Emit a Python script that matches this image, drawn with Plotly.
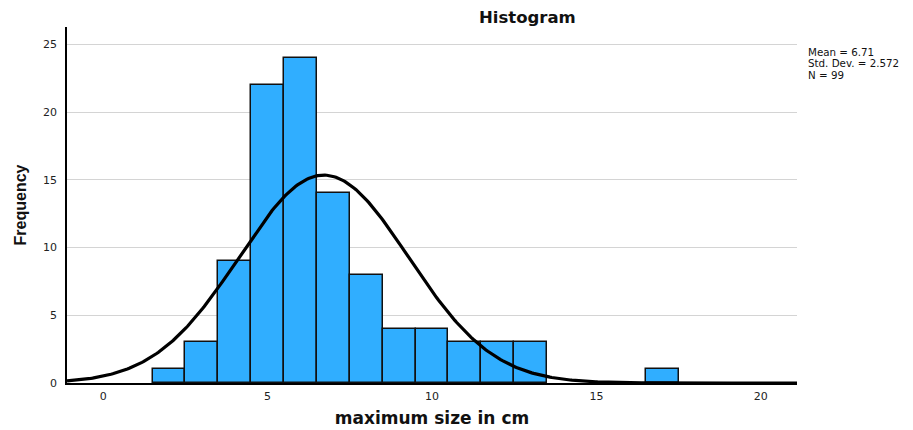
import numpy as np
import plotly.graph_objects as go

# Data
bin_centers = [2, 3, 4, 5, 6, 7, 8, 9, 10, 11, 12, 13, 17]
frequencies = [1, 3, 9, 22, 24, 14, 8, 4, 4, 3, 3, 3, 1]
bin_width = 1.0
mean_val = 6.71
std_val = 2.572
n_val = 99

x_ticks = [0, 5, 10, 15, 20]
y_ticks = [0, 5, 10, 15, 20, 25]
stats_lines = [f"Mean = {mean_val}", f"Std. Dev. = {std_val}", f"N = {n_val}"]

# Fitted normal curve (from stated mean / sd / N)
xs = np.linspace(-1.1, 21.1, 400)
ys = n_val * bin_width / (std_val * np.sqrt(2 * np.pi)) * np.exp(-0.5 * ((xs - mean_val) / std_val) ** 2)

FONT = "DejaVu Sans, Verdana, sans-serif"

fig = go.Figure()
fig.add_trace(go.Bar(
    x=bin_centers, y=frequencies, width=bin_width,
    marker=dict(color="#30aeff", line=dict(color="#111111", width=1.5)),
    showlegend=False, hoverinfo="x+y",
))
fig.add_trace(go.Scatter(
    x=xs, y=ys, mode="lines", line=dict(color="#000000", width=3.2),
    showlegend=False, hoverinfo="skip",
))

PLOT_LEFT, PLOT_RIGHT = 67, 797
PLOT_TOP, PLOT_BOTTOM = 27, 383
plot_h = PLOT_BOTTOM - PLOT_TOP
plot_w = PLOT_RIGHT - PLOT_LEFT

annotations = [
    dict(text="<b>Histogram</b>", xref="paper", yref="paper", x=(527 - PLOT_LEFT) / plot_w, y=1.0,
         yshift=10, xanchor="center", yanchor="middle", showarrow=False,
         font=dict(size=16.5, color="#111111", family=FONT)),
]
for i, line in enumerate(stats_lines):
    yc = 52 + i * 11.5
    annotations.append(dict(
        text=line, xref="paper", yref="paper", x=1.0, xshift=9,
        y=(PLOT_BOTTOM - yc) / plot_h, xanchor="left", yanchor="middle",
        align="left", showarrow=False, font=dict(size=10.3, color="#111111", family=FONT)))

fig.update_layout(
    width=913, height=430,
    margin=dict(l=PLOT_LEFT, r=913 - PLOT_RIGHT, t=PLOT_TOP, b=430 - PLOT_BOTTOM),
    plot_bgcolor="white", paper_bgcolor="white",
    bargap=0,
    font=dict(family=FONT, color="#222222", size=11),
    xaxis=dict(
        range=[-1.1, 21.1], tickvals=x_ticks, ticktext=[str(v) for v in x_ticks],
        showgrid=False, zeroline=False, showline=True, linecolor="#000000", linewidth=1.5,
        ticks="", tickfont=dict(size=11, color="#222222", family=FONT), ticklabelstandoff=2,
        automargin=False,
        title=dict(text="<b>maximum size in cm</b>", font=dict(size=17, color="#111111", family=FONT),
                   standoff=10),
    ),
    yaxis=dict(
        range=[0, 26.3], tickvals=y_ticks, ticktext=[str(v) for v in y_ticks],
        showgrid=True, gridcolor="#d4d4d4", gridwidth=1, zeroline=False,
        showline=True, linecolor="#000000", linewidth=1.5,
        ticks="", tickfont=dict(size=11, color="#222222", family=FONT), ticklabelstandoff=6,
        automargin=False,
        title=dict(text="<b>Frequency</b>", font=dict(size=16, color="#111111",
                   family="Liberation Sans, Arial, sans-serif"), standoff=12),
    ),
    annotations=annotations,
)

fig.write_html("out.html")
